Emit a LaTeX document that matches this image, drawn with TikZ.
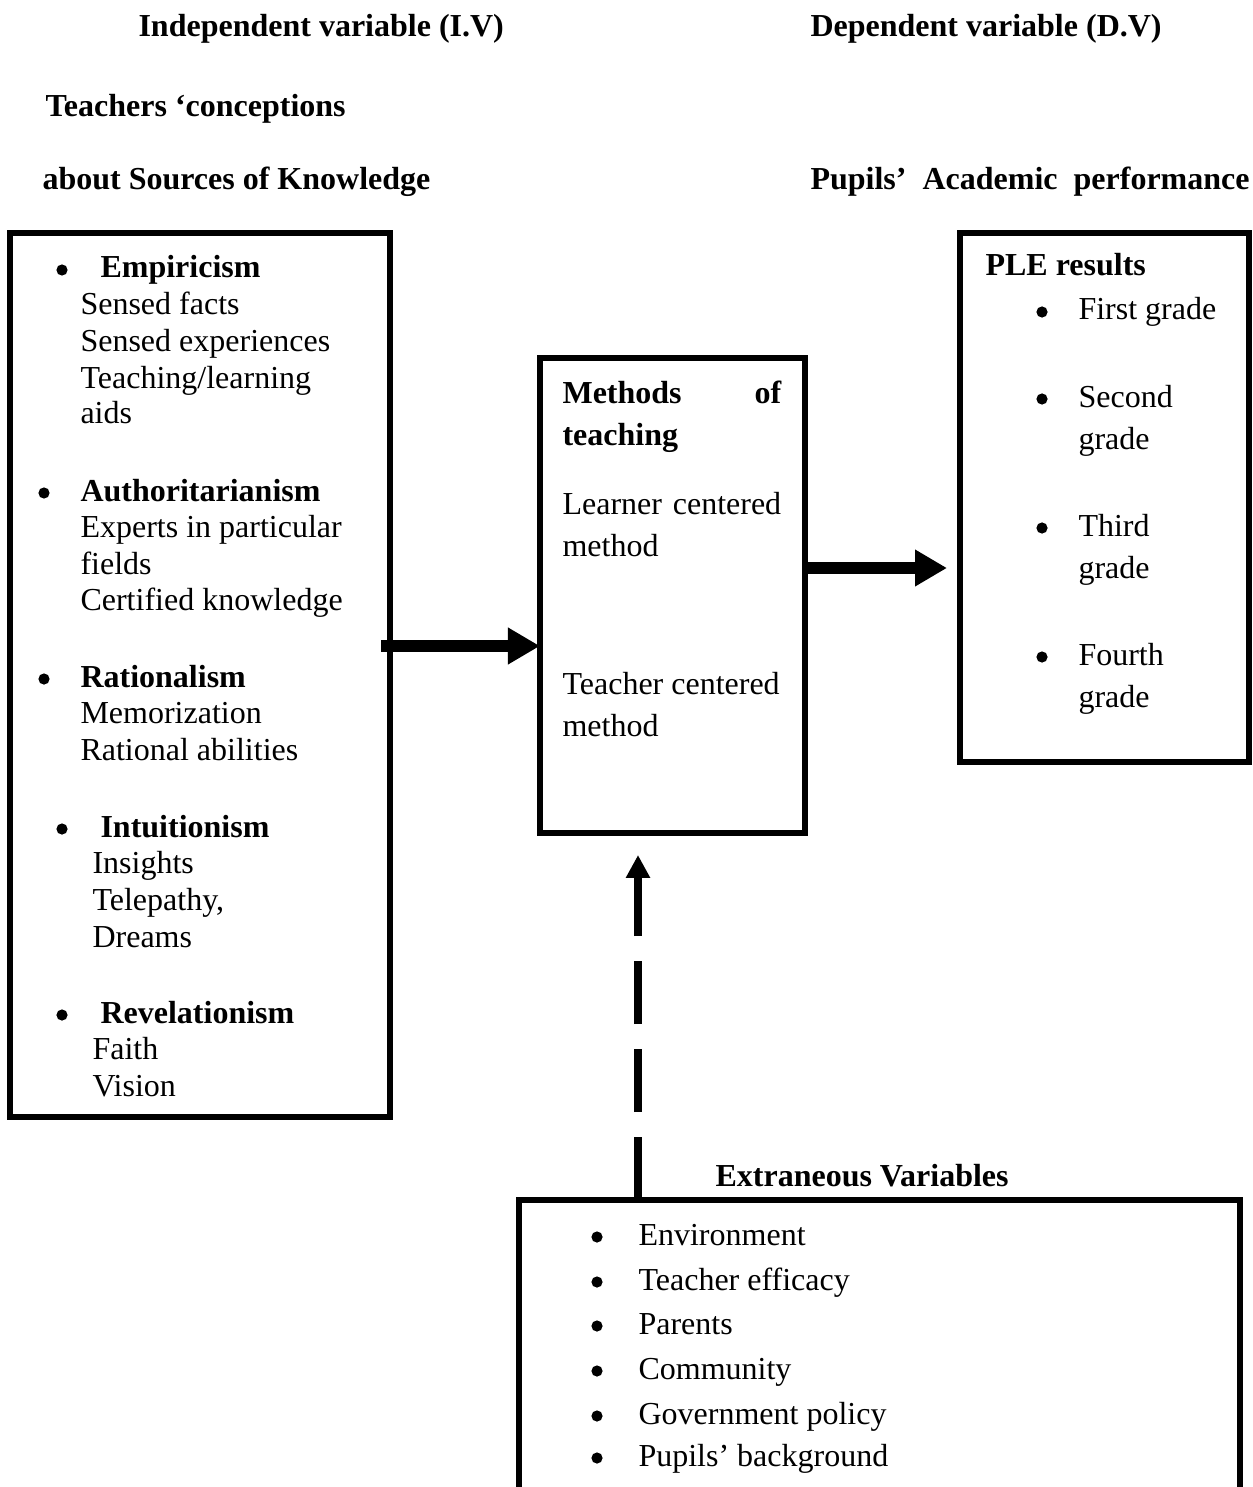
\documentclass[tikz,border=0pt]{standalone}
\usepackage{fontspec}
\setmainfont{Liberation Serif}
\usetikzlibrary{arrows.meta}
\begin{document}
\begin{tikzpicture}[x=0.375pt,y=-0.375pt,
  every node/.style={font=\fontsize{12}{14}\selectfont, inner sep=0pt},
  txt/.style={anchor=base west},
  btxt/.style={anchor=base west, font=\fontsize{12}{14}\selectfont\bfseries},
  bul/.style={circle, fill, inner sep=0pt, minimum size=4.2pt, yshift=3pt},
  box/.style={draw, line width=2.2pt, outer sep=0pt, inner sep=0pt},
  bigarrow/.style={line width=4.5pt, -{Triangle[length=12pt,width=13pt]}},
  dasharrow/.style={line width=3pt, dash pattern=on 23.6pt off 9.4pt, -{Triangle[length=8.6pt,width=8.6pt]}}]
\useasboundingbox (0,0) rectangle (1252,1487);
\fill[white] (0,0) rectangle (1252,1487);

% headers
\node[btxt] (h1) at (138,37) {Independent variable (I.V)};
\node[btxt] (h2) at (810,37) {Dependent variable (D.V)};
\node[btxt] (h3) at (45,117) {Teachers ‘conceptions};
\node[btxt] (h4) at (42,190) {about Sources of Knowledge};
\node[btxt] (h5) at (810,190) {Pupils’\ \ Academic\ \ performance};

% boxes
\node[box, minimum width=142.5pt, minimum height=331.5pt] (lbox) at (200,675) {};
\node[box, minimum width=99.4pt, minimum height=178.1pt] (mbox) at (672.5,595.5) {};
\node[box, minimum width=108.4pt, minimum height=198.4pt] (rbox) at (1104.5,497.5) {};
\node[box, minimum width=270.4pt, minimum height=135pt] (bbox) at (879.5,1380) {};

% left box content
\node[bul] (lb1) at (62,278) {};
\node[btxt] (l1) at (100,278) {Empiricism};
\node[txt] (l2) at (80,314) {Sensed facts};
\node[txt] (l3) at (80,351) {Sensed experiences};
\node[txt] (l4) at (80,388) {Teaching/learning};
\node[txt] (l5) at (80,423) {aids};
\node[bul] (lb2) at (44,501) {};
\node[btxt] (l6) at (80,501) {Authoritarianism};
\node[txt] (l7) at (80,537) {Experts in particular};
\node[txt] (l8) at (80,574) {fields};
\node[txt] (l9) at (80,610) {Certified knowledge};
\node[bul] (lb3) at (44,687) {};
\node[btxt] (l10) at (80,687) {Rationalism};
\node[txt] (l11) at (80,723) {Memorization};
\node[txt] (l12) at (80,760) {Rational abilities};
\node[bul] (lb4) at (62,837) {};
\node[btxt] (l13) at (100,837) {Intuitionism};
\node[txt] (l14) at (92,873) {Insights};
\node[txt] (l15) at (92,910) {Telepathy,};
\node[txt] (l16) at (92,947) {Dreams};
\node[bul] (lb5) at (62,1023) {};
\node[btxt] (l17) at (100,1023) {Revelationism};
\node[txt] (l18) at (92,1059) {Faith};
\node[txt] (l19) at (92,1096) {Vision};

% middle box content
\node[txt] (m1) at (562,403) {\makebox[82pt]{\bfseries Methods\hfill of}};
\node[btxt] (m2) at (562,445) {teaching};
\node[txt] (m3) at (562,514) {\makebox[82pt]{Learner\hfill centered}};
\node[txt] (m4) at (562,556) {method};
\node[txt] (m5) at (562,694) {Teacher centered};
\node[txt] (m6) at (562,736) {method};

% right box content
\node[btxt] (r0) at (985,276) {PLE results};
\node[bul] (rb1) at (1042,320) {};
\node[txt] (r1) at (1078,320) {First grade};
\node[bul] (rb2) at (1042,407) {};
\node[txt] (r2) at (1078,407) {Second};
\node[txt] (r3) at (1078,449) {grade};
\node[bul] (rb3) at (1042,536) {};
\node[txt] (r4) at (1078,536) {Third};
\node[txt] (r5) at (1078,578) {grade};
\node[bul] (rb4) at (1042,665) {};
\node[txt] (r6) at (1078,665) {Fourth};
\node[txt] (r7) at (1078,707) {grade};

% bottom box content
\node[btxt] (e0) at (715,1186) {Extraneous Variables};
\node[bul] (eb1) at (597,1245) {};
\node[txt] (e1) at (638,1245) {Environment};
\node[bul] (eb2) at (597,1290) {};
\node[txt] (e2) at (638,1290) {Teacher efficacy};
\node[bul] (eb3) at (597,1334) {};
\node[txt] (e3) at (638,1334) {Parents};
\node[bul] (eb4) at (597,1379) {};
\node[txt] (e4) at (638,1379) {Community};
\node[bul] (eb5) at (597,1424) {};
\node[txt] (e5) at (638,1424) {Government policy};
\node[bul] (eb6) at (597,1466) {};
\node[txt] (e6) at (638,1466) {Pupils’ background};

% connectors
\coordinate (a1s) at (381,646);
\draw[bigarrow] (a1s) -- (mbox.west |- a1s);
\coordinate (a2e) at (947,568);
\draw[bigarrow] (mbox.east |- a2e) -- (a2e);
\coordinate (a3e) at (638,855);
\draw[dasharrow] (bbox.north -| a3e) -- (a3e);
\end{tikzpicture}
\end{document}
